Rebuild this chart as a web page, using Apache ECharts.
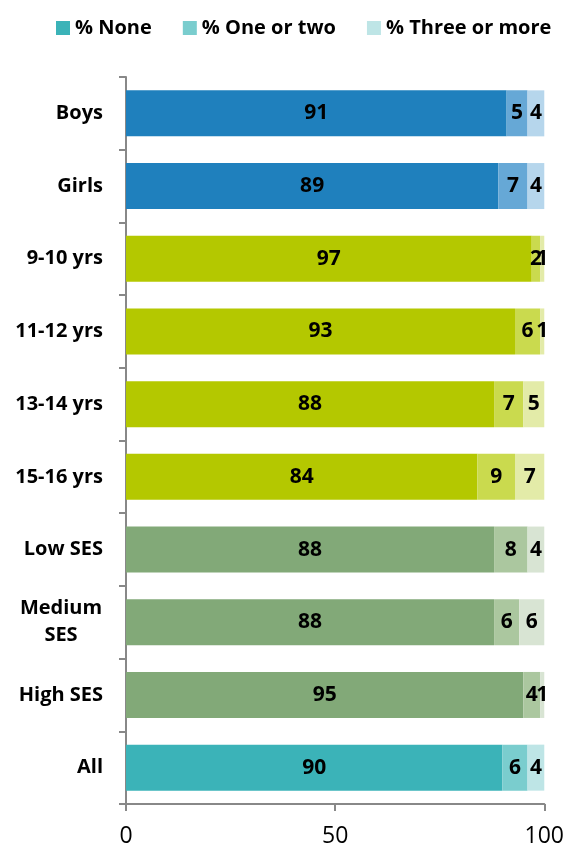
<!DOCTYPE html>
<html>
<head>
<meta charset="utf-8">
<script src="https://cdn.jsdelivr.net/npm/echarts@6/dist/echarts.min.js"></script>
<style>
  html, body { margin: 0; padding: 0; background: #fff; }
  #chart { width: 567px; height: 848px; }
</style>
</head>
<body>
<div id="chart"></div>
<script>
// Categories and percentages per group
const categories = ['Boys', 'Girls', '9-10 yrs', '11-12 yrs', '13-14 yrs', '15-16 yrs', 'Low SES', 'Medium SES', 'High SES', 'All'];
const noneValues = [91, 89, 97, 93, 88, 84, 88, 88, 95, 90];
const oneTwoValues = [5, 7, 2, 6, 7, 9, 8, 6, 4, 6];
const threeMoreValues = [4, 4, 1, 1, 5, 7, 4, 6, 1, 4];
const seriesNames = ['% None', '% One or two', '% Three or more'];
const xTicks = [0, 50, 100];

// Colour groups: [none, one or two, three or more]
const palettes = {
  gender: ['#1F80BD', '#66A8D6', '#B6D6EC'],
  age: ['#B4C800', '#CADA4E', '#E3EBA8'],
  ses: ['#82A978', '#ABC79F', '#D8E4D3'],
  all: ['#3BB3B8', '#7ACDCE', '#BEE5E6']
};
const groupOf = ['gender', 'gender', 'age', 'age', 'age', 'age', 'ses', 'ses', 'ses', 'all'];

const FONT = '"Open Sans", "Noto Sans", sans-serif';

function buildData(values, level) {
  return values.map((v, i) => ({
    value: v,
    itemStyle: { color: palettes[groupOf[i]][level] }
  }));
}

const labelStyle = {
  show: true,
  position: 'inside',
  color: '#000',
  fontFamily: FONT,
  fontWeight: 'bold',
  fontSize: 21,
  formatter: p => p.value
};

const chart = echarts.init(document.getElementById('chart'), null, { renderer: 'canvas' });
chart.setOption({
  animation: false,
  backgroundColor: '#fff',
  legend: {
    top: 18,
    left: 56,
    padding: 0,
    itemWidth: 14,
    itemHeight: 14,
    itemGap: 31,
    icon: 'rect',
    textStyle: { fontFamily: FONT, fontWeight: 'bold', fontSize: 20, color: '#000' },
    data: seriesNames.map((n, k) => ({ name: n, itemStyle: { color: palettes.all[k] } }))
  },
  grid: { left: 126, right: 21, top: 77, bottom: 42, containLabel: false },
  xAxis: {
    type: 'value',
    min: 0,
    max: 100,
    interval: 50,
    axisLine: { show: true, lineStyle: { color: '#888', width: 2 } },
    axisTick: { show: true, length: 7, lineStyle: { color: '#888', width: 2 } },
    splitLine: { show: false },
    axisLabel: {
      fontFamily: FONT, fontSize: 23, color: '#000', margin: 21,
      formatter: v => (xTicks.includes(v) ? String(v) : '')
    }
  },
  yAxis: {
    type: 'category',
    inverse: true,
    data: categories,
    axisLine: { show: true, lineStyle: { color: '#888', width: 2 } },
    axisTick: { show: true, length: 7, alignWithLabel: false, lineStyle: { color: '#888', width: 2 } },
    axisLabel: {
      margin: 23,
      color: '#000',
      fontFamily: FONT,
      fontWeight: 'bold',
      fontSize: 20,
      formatter: v => v === 'Medium SES' ? '{c|Medium}\n{c|SES}' : v,
      rich: {
        c: { width: 84, align: 'center', fontFamily: FONT, fontWeight: 'bold', fontSize: 20, color: '#000', lineHeight: 27 }
      }
    }
  },
  series: [
    { name: seriesNames[0], type: 'bar', stack: 't', barWidth: 46, data: buildData(noneValues, 0), label: labelStyle },
    { name: seriesNames[1], type: 'bar', stack: 't', barWidth: 46, data: buildData(oneTwoValues, 1), label: labelStyle },
    { name: seriesNames[2], type: 'bar', stack: 't', barWidth: 46, data: buildData(threeMoreValues, 2), label: labelStyle }
  ]
});
</script>
</body>
</html>
